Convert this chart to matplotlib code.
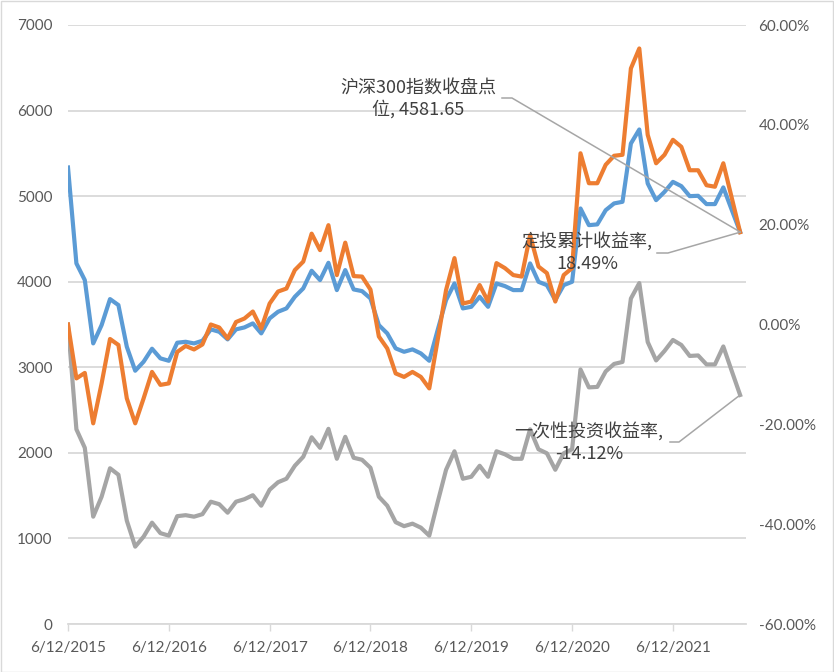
import matplotlib
matplotlib.use('Agg')
import matplotlib.pyplot as plt
from matplotlib.lines import Line2D
from matplotlib.patches import Rectangle

plt.rcParams['font.family'] = ['Lato', 'Noto Sans CJK SC', 'DejaVu Sans']

# ---- data (monthly) ----
tick_labels = ['6/12/2015', '6/12/2016', '6/12/2017', '6/12/2018',
               '6/12/2019', '6/12/2020', '6/12/2021']

csi300_close = [5335, 4214, 4019, 3279, 3493, 3797, 3727, 3240, 2960, 3065,
                3217, 3104, 3076, 3287, 3298, 3279, 3310, 3443, 3415, 3326,
                3443, 3466, 3513, 3396, 3571, 3649, 3688, 3824, 3922, 4128,
                4019, 4221, 3902, 4136, 3910, 3890, 3805, 3493, 3396, 3221,
                3181, 3209, 3162, 3076, 3435, 3785, 3980, 3688, 3707, 3824,
                3707, 3980, 3949, 3902, 3902, 4214, 3999, 3960, 3785, 3960,
                3999, 4856, 4661, 4670, 4836, 4915, 4934, 5615, 5779, 5148,
                4953, 5050, 5167, 5117, 5000, 5004, 4907, 4907, 5102, 4840,
                4581.65]

dca_return = [0.0, -10.8, -9.7, -19.8, -11.8, -2.9, -4.1, -14.8, -19.8, -14.8,
              -9.5, -12.1, -11.8, -5.5, -4.3, -5.0, -4.0, 0.0, -0.6, -2.8,
              0.5, 1.2, 2.6, -0.8, 4.2, 6.6, 7.2, 10.9, 12.6, 18.2,
              14.9, 19.9, 9.9, 16.4, 9.7, 9.6, 7.0, -2.4, -4.8, -9.8,
              -10.5, -9.5, -10.5, -12.8, -3.1, 6.9, 13.3, 4.2, 4.6, 7.9,
              4.6, 12.3, 11.3, 9.9, 9.6, 17.9, 11.6, 10.3, 4.6, 9.9,
              11.3, 34.3, 28.3, 28.3, 32.0, 33.8, 34.0, 51.3, 55.3, 38.0,
              32.3, 34.0, 37.0, 35.6, 30.9, 30.9, 27.9, 27.6, 32.3, 25.4,
              18.49]

lump_return = [0.0, -21.0, -24.7, -38.5, -34.5, -28.8, -30.1, -39.3, -44.5, -42.5,
               -39.7, -41.8, -42.3, -38.4, -38.2, -38.5, -38.0, -35.5, -36.0, -37.7,
               -35.5, -35.0, -34.2, -36.3, -33.1, -31.6, -30.9, -28.3, -26.5, -22.6,
               -24.7, -20.9, -26.9, -22.5, -26.7, -27.1, -28.7, -34.5, -36.3, -39.6,
               -40.4, -39.9, -40.7, -42.3, -35.6, -29.1, -25.4, -30.9, -30.5, -28.3,
               -30.5, -25.4, -26.0, -26.9, -26.9, -21.0, -25.0, -25.8, -29.1, -25.8,
               -25.0, -9.0, -12.6, -12.5, -9.4, -7.9, -7.5, 5.2, 8.3, -3.5,
               -7.2, -5.3, -3.1, -4.1, -6.3, -6.2, -8.0, -8.0, -4.4, -9.3,
               -14.12]

label_close = '沪深300指数收盘点\n位, '
label_dca = '定投累计收益率,\n'
label_lump = '一次性投资收益率,\n'

# ---- figure ----
W, H = 834, 672
fig = plt.figure(figsize=(W / 100, H / 100), dpi=100)
fig.patch.set_facecolor('white')
L, R, T, B = 68, 746, 25, 624
ax = fig.add_axes([L / W, 1 - B / H, (R - L) / W, (B - T) / H])
ax2 = ax.twinx()

x = list(range(len(csi300_close)))
c_blue, c_orange, c_gray = '#5B9BD5', '#ED7D31', '#A5A5A5'
lw = 3.0
ax.plot(x, csi300_close, color=c_blue, lw=lw, solid_joinstyle='round', zorder=3)
ax2.plot(x, lump_return, color=c_gray, lw=lw, solid_joinstyle='round', zorder=3)
ax2.plot(x, dca_return, color=c_orange, lw=lw, solid_joinstyle='round', zorder=4)

ax.set_xlim(0, 80.7)
ax.set_ylim(0, 7000)
ax2.set_ylim(-60, 60)

tick_col = '#595959'
grid_col = '#d9d9d9'
ax.set_yticks(range(0, 7001, 1000))
ax.set_yticklabels([str(v) for v in range(0, 7001, 1000)])
ax2.set_yticks(range(-60, 61, 20))
ax2.set_yticklabels([f'{v:.2f}%' for v in range(-60, 61, 20)])
ax.set_xticks(range(0, 12 * len(tick_labels), 12))
ax.set_xticklabels(tick_labels)

ax.tick_params(axis='y', length=0, pad=11, labelcolor=tick_col, labelsize=11)
ax2.tick_params(axis='y', length=0, pad=9, labelcolor=tick_col, labelsize=11)
ax.tick_params(axis='x', length=5, width=1, color=grid_col, pad=7,
               labelcolor=tick_col, labelsize=11)

ax.grid(axis='y', color=grid_col, lw=1.3)
ax.set_axisbelow(True)
for a in (ax, ax2):
    for s in a.spines.values():
        s.set_visible(False)
ax.spines['bottom'].set_visible(True)
ax.spines['bottom'].set_color(grid_col)
ax.spines['bottom'].set_linewidth(1.3)

# ---- data labels with leader lines ----
txt_col = '#404040'
lead_col = '#a6a6a6'
cjk = ['Noto Sans CJK SC', 'DejaVu Sans']


def put_label(text, cx, cy):
    fig.text(cx / W, 1 - cy / H, text, ha='center', va='center',
             multialignment='center', fontsize=13, color=txt_col,
             family=cjk, linespacing=1.2)


def leader(x0, x1, y, axis, xv, yv):
    px, py = axis.transData.transform((xv, yv))
    fig.add_artist(Line2D([x0 / W, x1 / W, px / W], [1 - y / H, 1 - y / H, py / H],
                          transform=fig.transFigure, color=lead_col, lw=1.1))


put_label(label_close + f'{csi300_close[-1]:.2f}', 418, 99)
put_label(label_dca + f'{dca_return[-1]:.2f}%', 587, 253)
put_label(label_lump + f'{lump_return[-1]:.2f}%', 589, 443)

leader(502, 512, 98, ax, x[-1], csi300_close[-1])
leader(657, 668, 253, ax2, x[-1], dca_return[-1])
leader(670, 679, 442, ax2, x[-1], lump_return[-1])

fig.add_artist(Rectangle((0.5 / W, 0.5 / H), (W - 1.5) / W, (H - 1.5) / H,
                         transform=fig.transFigure, fill=False,
                         edgecolor=grid_col, lw=1))

fig.savefig('out.png', dpi=100)
